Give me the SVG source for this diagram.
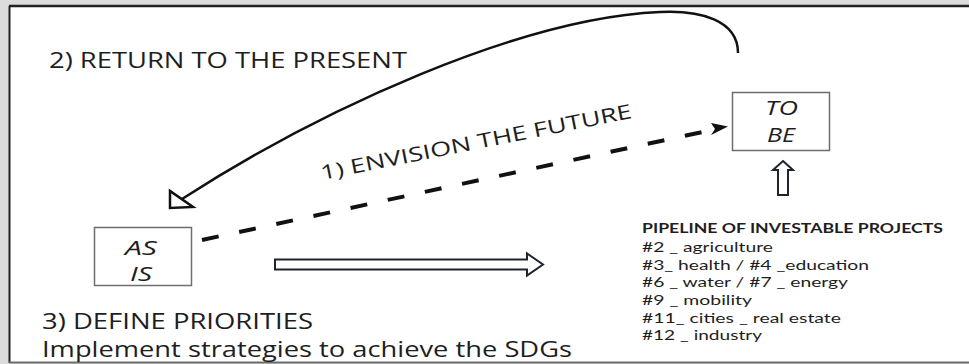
<svg xmlns="http://www.w3.org/2000/svg" width="969" height="364" viewBox="0 0 969 364">
<style>
.t{font-family:"Open Sans","Liberation Sans",sans-serif;fill:#1e1e1e}
.box{fill:#fff;stroke:#6e6e6e;stroke-width:1.5}
.lbl{font-family:"Open Sans","Liberation Sans",sans-serif;font-style:italic;font-size:20px;fill:#1e1e1e}
.hollow{fill:#fff;stroke:#1f2330;stroke-width:2;stroke-linejoin:miter}
.pl{font-family:Lato,"Open Sans","Liberation Sans",sans-serif;font-size:13.5px;fill:#1e1e1e}
</style>
<rect x="0" y="0" width="969" height="364" fill="#dcdcdc"/>
<rect x="10" y="7" width="965" height="355" fill="#fff"/>
<line x1="9" y1="6" x2="969" y2="6" stroke="#222" stroke-width="2.5"/>
<line x1="9.5" y1="6" x2="9.5" y2="363" stroke="#222" stroke-width="2"/>
<line x1="9" y1="362.5" x2="969" y2="362.5" stroke="#6e6e6e" stroke-width="2"/>

<g id="connectors">
  <path d="M738,53 C738,20 700,10 660,12 C520,18 320,110 182,199" fill="none" stroke="#111" stroke-width="2.5"/>
  <polygon points="170,191 170,208 193,207" fill="#fff" stroke="#111" stroke-width="2.5" stroke-linejoin="miter"/>
  <line x1="202" y1="240" x2="714" y2="129.5" stroke="#111" stroke-width="4" stroke-dasharray="17 21"/>
  <polygon points="728,126.5 711,135 715,129 711,123" fill="#111"/>
  <path class="hollow" d="M275,259.5 H527 V253.5 L543,264.5 L527,275.5 V269.5 H275 Z"/>
  <path class="hollow" d="M783,161 L793,170 H788 V195 H778 V170 H773 Z"/>
</g>

<g id="node-as-is">
  <rect class="box" x="94.5" y="227.5" width="97" height="58"/>
  <text class="lbl" x="125" y="255" textLength="32" lengthAdjust="spacingAndGlyphs">AS</text>
  <text class="lbl" x="130" y="281" textLength="22" lengthAdjust="spacingAndGlyphs">IS</text>
</g>

<g id="node-to-be">
  <rect class="box" x="732.5" y="92.5" width="97" height="58"/>
  <text class="lbl" x="765" y="115" textLength="33" lengthAdjust="spacingAndGlyphs">TO</text>
  <text class="lbl" x="767" y="142" textLength="28" lengthAdjust="spacingAndGlyphs">BE</text>
</g>

<g id="label-return">
  <text class="t" x="49" y="68" font-size="22" textLength="358" lengthAdjust="spacingAndGlyphs">2) RETURN TO THE PRESENT</text>
</g>
<g id="label-envision">
  <text class="t" font-size="20" transform="translate(322,180) rotate(-11.3)" textLength="317" lengthAdjust="spacingAndGlyphs">1) ENVISION THE FUTURE</text>
</g>
<g id="label-priorities">
  <text class="t" x="42" y="329" font-size="21" textLength="271" lengthAdjust="spacingAndGlyphs">3) DEFINE PRIORITIES</text>
  <text class="t" x="42" y="357" font-size="21" textLength="530" lengthAdjust="spacingAndGlyphs">Implement strategies to achieve the SDGs</text>
</g>
<g id="pipeline">
  <text class="pl" x="642" y="233" font-weight="bold" textLength="301" lengthAdjust="spacingAndGlyphs">PIPELINE OF INVESTABLE PROJECTS</text>
  <text class="pl" x="642" y="252" textLength="131" lengthAdjust="spacingAndGlyphs">#2 _ agriculture</text>
  <text class="pl" x="642" y="270" textLength="227" lengthAdjust="spacingAndGlyphs">#3_ health / #4 _education</text>
  <text class="pl" x="642" y="287" textLength="206" lengthAdjust="spacingAndGlyphs">#6 _ water / #7 _ energy</text>
  <text class="pl" x="642" y="305" textLength="110" lengthAdjust="spacingAndGlyphs">#9 _ mobility</text>
  <text class="pl" x="642" y="323" textLength="199" lengthAdjust="spacingAndGlyphs">#11_ cities _ real estate</text>
  <text class="pl" x="642" y="340" textLength="120" lengthAdjust="spacingAndGlyphs">#12 _ industry</text>
</g>
</svg>
